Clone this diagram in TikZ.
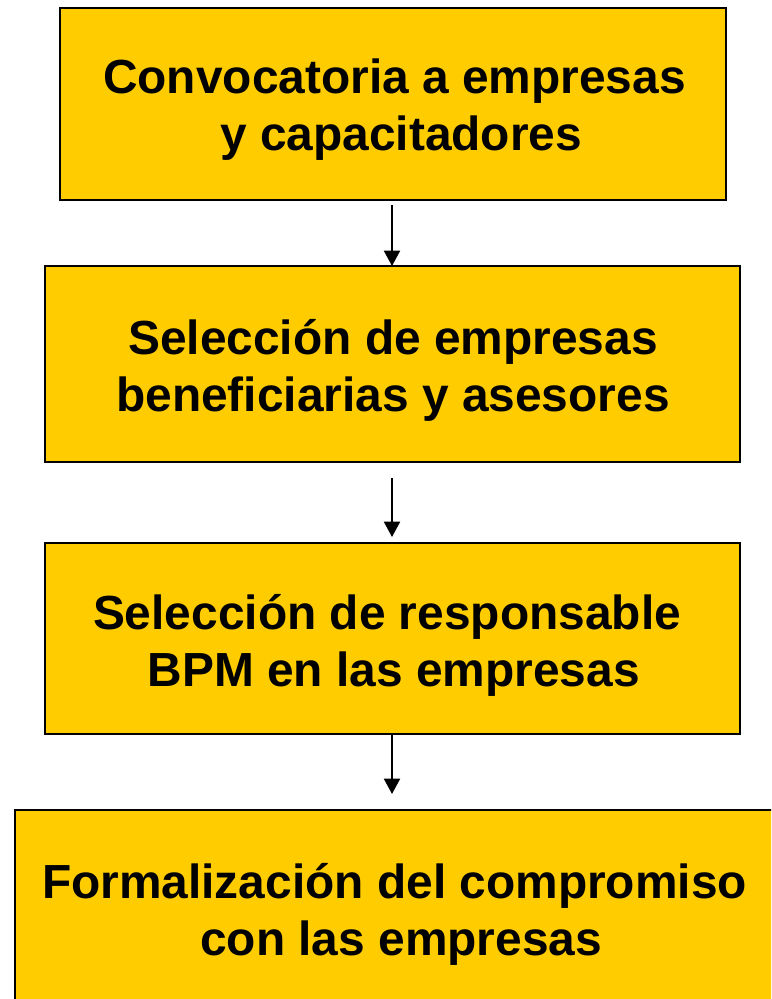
\documentclass[tikz,border=0pt]{standalone}
\usepackage{fontspec}
\setmainfont{Liberation Sans}
\usetikzlibrary{arrows.meta}
\definecolor{boxyellow}{HTML}{FFCC00}
\newcommand{\lead}{\hspace*{0.278em}}
\begin{document}
\begin{tikzpicture}[x=0.75pt,y=-0.75pt,
  stepbox/.style={draw=black, line width=1.6pt, fill=boxyellow, inner sep=0pt, outer sep=0pt},
  steptext/.style={inner sep=0pt, align=center, yshift=-4.5pt,
    font=\fontsize{35.9}{42.75}\selectfont\bfseries},
  flow/.style={draw=black, line width=1.5pt, -{Triangle[length=11.5pt,width=12pt]}}]
\useasboundingbox (0,0) rectangle (771,999);
\clip (0,0) rectangle (771,999);
\fill[white] (0,0) rectangle (771,999);
\node[stepbox, minimum width=499.5pt, minimum height=144pt] (b1) at (393,104) {};
\node[stepbox, minimum width=521.25pt, minimum height=147pt] (b2) at (392.5,364) {};
\node[stepbox, minimum width=521.25pt, minimum height=143.25pt] (b3) at (392.5,638.5) {};
\node[stepbox, minimum width=572pt, minimum height=147pt] (b4) at (396,908) {};
\node[steptext] (t1) at (394.5,104) {Convocatoria a empresas\\\lead y capacitadores};
\node[steptext] (t2) at (393,364) {Selección de empresas\\beneficiarias y asesores};
\node[steptext] (t3) at (387,639) {Selección de responsable\\\lead BPM en las empresas};
\node[steptext] (t4) at (394.5,908) {Formalización del compromiso\\\lead con las empresas};
\draw[flow, shorten <=3.75pt] (b1.south -| 392,0) -- (b2.north -| 392,0);
\draw[flow, shorten <=12pt, shorten >=4.5pt] (b2.south -| 392,0) -- (b3.north -| 392,0);
\draw[flow, shorten >=12pt] (b3.south -| 392,0) -- (b4.north -| 392,0);
\end{tikzpicture}
\end{document}
